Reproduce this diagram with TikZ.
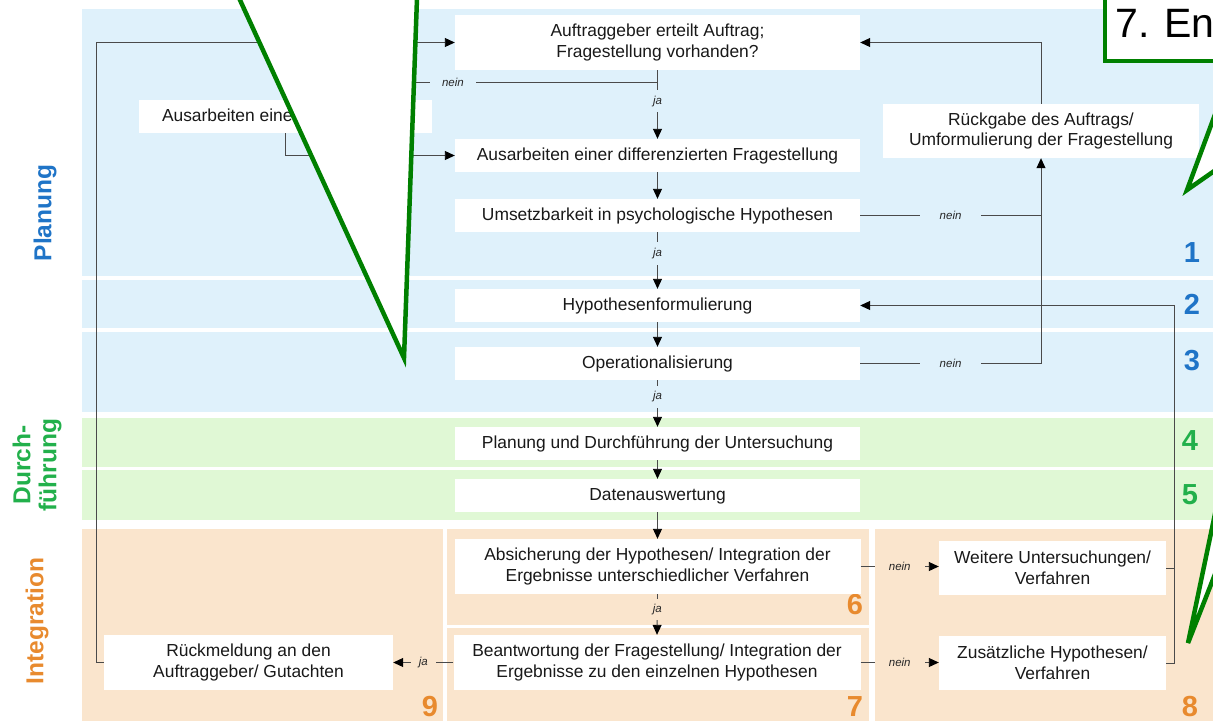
\documentclass[tikz,border=0pt]{standalone}
\usepackage{fontspec}
\setmainfont{Liberation Sans}
\usetikzlibrary{arrows.meta}
\definecolor{bblue}{HTML}{DFF1FB}
\definecolor{bgreen}{HTML}{E0F8D5}
\definecolor{borange}{HTML}{FAE5CD}
\definecolor{tblue}{HTML}{1F74C7}
\definecolor{tgreen}{HTML}{22B04B}
\definecolor{torange}{HTML}{E88A2E}
\definecolor{cgreen}{HTML}{008000}
\definecolor{ln}{HTML}{4A4A4A}
\begin{document}
\begin{tikzpicture}[x=1pt,y=-1pt,
 box/.style={fill=white, inner sep=0pt, align=center, font=\fontsize{17.4}{20.5}\selectfont, text=black!90},
 wbox/.style={box, minimum width=405pt, minimum height=33pt, text height=12.5pt, text depth=3.5pt},
 tbox/.style={box, minimum height=55pt},
 conn/.style={draw=ln, line width=0.9pt},
 arr/.style={conn, -{Triangle[length=10pt,width=9pt,color=black]}},
 lab/.style={font=\itshape\fontsize{11.5}{13}\selectfont, text=black!85, inner ysep=3pt, inner xsep=12pt},
 num/.style={font=\bfseries\fontsize{29}{30}\selectfont},
 side/.style={rotate=90, font=\bfseries\fontsize{24.5}{26}\selectfont, align=center},
 callout/.style={fill=white, draw=cgreen, line width=4.5pt, line join=miter}
]
\useasboundingbox (0,0) rectangle (1213,721);
\clip (0,0) rectangle (1213,721);
% bands
\fill[bblue] (82,9) rectangle (1213,276);
\fill[bblue] (82,280) rectangle (1213,328);
\fill[bblue] (82,332) rectangle (1213,412);
\fill[bgreen] (82,418) rectangle (1213,467);
\fill[bgreen] (82,470) rectangle (1213,520);
\fill[borange] (82,529) rectangle (443,721);
\fill[borange] (447,529) rectangle (869,625);
\fill[borange] (447,628) rectangle (869,721);
\fill[borange] (875,529) rectangle (1213,721);
% side labels
\node[side, text=tblue] (sp) at (45,213) {Planung};
\node[side, text=tgreen] (sd) at (37,465) {Durch-\\führung};
\node[side, text=torange] (si) at (37,621) {Integration};
% numbers
\node[num, text=tblue] (n1) at (1192,253) {1};
\node[num, text=tblue] (n2) at (1192,304) {2};
\node[num, text=tblue] (n3) at (1192,361) {3};
\node[num, text=tgreen] (n4) at (1190,441) {4};
\node[num, text=tgreen] (n5) at (1190,495) {5};
\node[num, text=torange] (n6) at (855,605) {6};
\node[num, text=torange] (n7) at (855,707) {7};
\node[num, text=torange] (n8) at (1190,707) {8};
\node[num, text=torange] (n9) at (430,707) {9};
% boxes
\node[tbox, minimum width=405pt] (B1) at (657.5,42.5) {Auftraggeber erteilt Auftrag;\\Fragestellung vorhanden?};
\node[box, minimum width=293pt, minimum height=33pt, text height=12.5pt, text depth=3.5pt] (BL) at (285.5,116.5) {\makebox[247pt][l]{Ausarbeiten einer Fragestellung}};
\node[wbox] (B2) at (657.5,155.5) {Ausarbeiten einer differenzierten Fragestellung};
\node[wbox] (B3) at (657.5,215.5) {Umsetzbarkeit in psychologische Hypothesen};
\node[wbox] (B4) at (657.5,305.5) {Hypothesenformulierung};
\node[wbox] (B5) at (657.5,363.5) {Operationalisierung};
\node[wbox] (B6) at (657.5,443.5) {Planung und Durchführung der Untersuchung};
\node[wbox] (B7) at (657.5,495.5) {Datenauswertung};
\node[tbox, minimum width=406pt] (B8) at (657.5,566.5) {Absicherung der Hypothesen/ Integration der\\Ergebnisse unterschiedlicher Verfahren};
\node[tbox, minimum width=407pt] (B9) at (657,662.5) {Beantwortung der Fragestellung/ Integration der\\Ergebnisse zu den einzelnen Hypothesen};
\node[tbox, minimum width=289pt] (B10) at (248.5,662.5) {Rückmeldung an den\\Auftraggeber/ Gutachten};
\node[tbox, minimum width=227pt, minimum height=54pt] (B11) at (1052.5,568) {Weitere Untersuchungen/\\Verfahren};
\node[tbox, minimum width=227pt, minimum height=54pt] (B12) at (1052.5,663) {Zusätzliche Hypothesen/\\Verfahren};
\node[tbox, minimum width=316pt, minimum height=54pt] (B13) at (1041,131) {Rückgabe des Auftrags/\\Umformulierung der Fragestellung};
% connectors
\draw[arr] (B10.west) -- ++(-7,0) |- (B1.west);
\path (B1.south) ++(0,12) coordinate (nj);
\draw[conn] (B1.south) -- (nj);
\draw[conn] (nj) -- node[lab, fill=bblue, pos=0.55]{nein} (nj -| BL.north) -- (BL.north);
\draw[arr] (B1.south) -- node[lab, fill=bblue, pos=0.45, inner xsep=3pt, inner ysep=6pt]{ja} (B2.north);
\draw[arr] (BL.south) |- (B2.west);
\draw[arr] (B2.south) -- (B3.north);
\draw[arr] (B3.south) -- node[lab, fill=bblue, pos=0.37, inner xsep=3pt, inner ysep=6pt]{ja} (B4.north);
\draw[arr] (B4.south) -- (B5.north);
\draw[arr] (B5.south) -- node[lab, fill=bblue, pos=0.36, inner xsep=3pt, inner ysep=6pt]{ja} (B6.north);
\draw[arr] (B6.south) -- (B7.north);
\draw[arr] (B7.south) -- (B8.north);
\draw[arr] (B8.south) -- node[lab, fill=borange, pos=0.38, inner xsep=3pt, inner ysep=5pt]{ja} (B9.north);
\draw[conn] (B3.east) -- node[lab, fill=bblue, inner xsep=20pt]{nein} (B3.east -| B13.south);
\draw[arr] (B5.east) -| node[lab, fill=bblue, pos=0.25, inner xsep=20pt]{nein} (B13.south);
\draw[arr] (B13.north) |- (B1.east);
\draw[arr] (B8.east) -- node[lab, fill=borange, inner xsep=14pt]{nein} (B8.east -| B11.west);
\draw[arr] (B9.east) -- node[lab, fill=borange, inner xsep=14pt]{nein} (B9.east -| B12.west);
\draw[conn] (B11.east) -- ++(8,0) coordinate (j8);
\draw[arr] (B12.east) -- ++(8,0) |- (B4.east);
\draw[arr] (B9.west) -- node[lab, fill=borange, inner xsep=8pt]{ja} (B10.east);
% callouts
\draw[callout] (235.4,-10) -- (404,358) -- (417.3,-10) -- cycle;
\draw[callout] (1240,47) -- (1187,190) -- (1240,153) -- cycle;
\draw[callout] (1239,399) -- (1188,643) -- (1239,513) -- cycle;
\draw[callout] (1105,-10) rectangle (1240,61);
\node[anchor=base west, font=\fontsize{41}{44}\selectfont, inner sep=0pt] (t7) at (1115,37) {7. En};
\end{tikzpicture}
\end{document}
